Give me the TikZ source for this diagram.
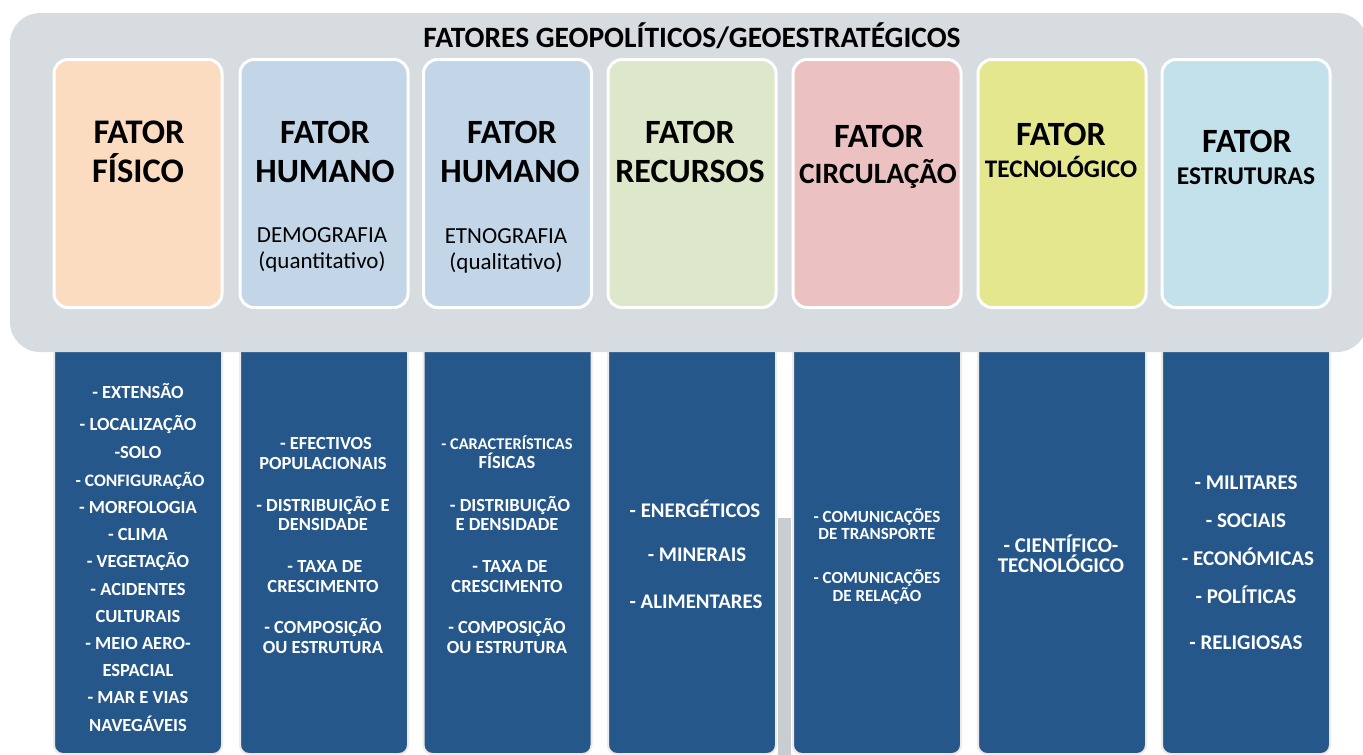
\documentclass[tikz,border=0pt]{standalone}
\usepackage{fontspec}
\setmainfont{Carlito}
\definecolor{panelgray}{HTML}{D7DCE0}
\definecolor{artgray}{HTML}{C8CDD2}
\definecolor{boxblue}{HTML}{26578B}
\definecolor{boxedge}{HTML}{EEEAE5}
\definecolor{cpeach}{HTML}{FBDCC1}
\definecolor{cblue}{HTML}{C2D6E8}
\definecolor{cgreen}{HTML}{DDE7C9}
\definecolor{cpink}{HTML}{EBC1C1}
\definecolor{cyellow}{HTML}{E5E78F}
\definecolor{ccyan}{HTML}{C3E1EB}
\begin{document}
\begin{tikzpicture}[x=1pt,y=-1pt,
  catbox/.style={draw=white, line width=3pt, rounded corners=14pt, minimum width=168pt, minimum height=248pt, inner sep=0pt},
  bluebox/.style={fill=boxblue, draw=boxedge, line width=2pt, rounded corners=9pt, minimum width=168pt, minimum height=430pt, inner sep=0pt},
  bt/.style={anchor=base, inner sep=0pt, font=\bfseries\fontsize{#1}{#1}\selectfont},
  rt/.style={anchor=base, inner sep=0pt, font=\fontsize{#1}{#1}\selectfont},
  wt/.style={bt=#1, text=white}]
\useasboundingbox (0,0) rectangle (1363,755);
\clip (0,0) rectangle (1363,755);

% blue boxes (tops hidden under the panel)
\node[bluebox] (b1) at (138,539) {};
\node[bluebox] (b2) at (324,539) {};
\node[bluebox] (b3) at (507.5,539) {};
\node[bluebox] (b4) at (692,539) {};
\node[bluebox] (b5) at (877,539) {};
\node[bluebox] (b6) at (1062,539) {};
\node[bluebox] (b7) at (1246,539) {};
\fill[artgray] (778,518) rectangle (791,760);

% panel
\node[fill=panelgray, rounded corners=30pt, minimum width=1357pt, minimum height=339pt, inner sep=0pt] (panel) at (688.5,182.5) {};
\node[bt=29.5] (title) at (692,47) {FATORES GEOPOLÍTICOS/GEOESTRATÉGICOS};

% category boxes
\node[catbox, fill=cpeach]  (c1) at (138,183.5) {};
\node[catbox, fill=cblue]   (c2) at (324,183.5) {};
\node[catbox, fill=cblue]   (c3) at (507.5,183.5) {};
\node[catbox, fill=cgreen]  (c4) at (692,183.5) {};
\node[catbox, fill=cpink]   (c5) at (877,183.5) {};
\node[catbox, fill=cyellow] (c6) at (1062,183.5) {};
\node[catbox, fill=ccyan]   (c7) at (1246,183.5) {};

% headings
\node[bt=34.5] (h1a) at (139,143) {FATOR};
\node[bt=34.5] (h1b) at (138,182) {FÍSICO};
\node[bt=34] (h2a) at (325,143) {FATOR};
\node[bt=34] (h2b) at (325,182) {HUMANO};
\node[rt=23] (h2c) at (322,242) {DEMOGRAFIA};
\node[rt=23] (h2d) at (322,268) {(quantitativo)};
\node[bt=34] (h3a) at (512,143) {FATOR};
\node[bt=34] (h3b) at (510,182) {HUMANO};
\node[rt=23] (h3c) at (506,243) {ETNOGRAFIA};
\node[rt=23] (h3d) at (506,269) {(qualitativo)};
\node[bt=34] (h4a) at (690,143) {FATOR};
\node[bt=34] (h4b) at (690,182) {RECURSOS};
\node[bt=34] (h5a) at (879,147) {FATOR};
\node[bt=29.5] (h5b) at (878,183) {CIRCULAÇÃO};
\node[bt=34] (h6a) at (1061,145) {FATOR};
\node[bt=25.3] (h6b) at (1061,177) {TECNOLÓGICO};
\node[bt=34] (h7a) at (1247,152) {FATOR};
\node[bt=25.5] (h7b) at (1246,184) {ESTRUTURAS};

% column 1
\node[wt=18.5] (t1a) at (138,398) {- EXTENSÃO};
\node[wt=18.5] (t1b) at (138,430) {- LOCALIZAÇÃO};
\node[wt=18.5] (t1c) at (138,458) {-SOLO};
\node[wt=17.5] (t1d) at (140,486) {- CONFIGURAÇÃO};
\node[wt=18.5] (t1e) at (138,513) {- MORFOLOGIA};
\node[wt=18.5] (t1f) at (138,540) {- CLIMA};
\node[wt=18.5] (t1g) at (138,567) {- VEGETAÇÃO};
\node[wt=18.5] (t1h) at (138,595) {- ACIDENTES};
\node[wt=18.5] (t1i) at (138,622) {CULTURAIS};
\node[wt=18.5] (t1j) at (138,649) {- MEIO AERO-};
\node[wt=18.5] (t1k) at (138,676) {ESPACIAL};
\node[wt=18.5] (t1l) at (138,703) {- MAR E VIAS};
\node[wt=18.5] (t1m) at (138,731) {NAVEGÁVEIS};

% column 2
\node[wt=18.5] (t2a) at (326,449) {- EFECTIVOS};
\node[wt=18.5] (t2b) at (323,469) {POPULACIONAIS};
\node[wt=18.5] (t2c) at (323,511) {- DISTRIBUIÇÃO E};
\node[wt=18.5] (t2d) at (323,530) {DENSIDADE};
\node[wt=18.5] (t2e) at (325,572) {- TAXA DE};
\node[wt=18.5] (t2f) at (323,592) {CRESCIMENTO};
\node[wt=18.5] (t2g) at (323,633) {- COMPOSIÇÃO};
\node[wt=18.5] (t2h) at (323,653) {OU ESTRUTURA};

% column 3
\node[wt=16.4] (t3a) at (507,449) {- CARACTERÍSTICAS};
\node[wt=18.5] (t3b) at (507,468) {FÍSICAS};
\node[wt=18.5] (t3c) at (510,511) {- DISTRIBUIÇÃO};
\node[wt=18.5] (t3d) at (507,530) {E DENSIDADE};
\node[wt=18.5] (t3e) at (510,572) {- TAXA DE};
\node[wt=18.5] (t3f) at (507,592) {CRESCIMENTO};
\node[wt=18.5] (t3g) at (507,633) {- COMPOSIÇÃO};
\node[wt=18.5] (t3h) at (507,653) {OU ESTRUTURA};

% column 4
\node[wt=20.8] (t4a) at (695,517) {- ENERGÉTICOS};
\node[wt=20.8] (t4b) at (697,561) {- MINERAIS};
\node[wt=20.8] (t4c) at (696,608) {- ALIMENTARES};

% column 5
\node[wt=17] (t5a) at (877,522) {- COMUNICAÇÕES};
\node[wt=17] (t5b) at (877,539) {DE TRANSPORTE};
\node[wt=17] (t5c) at (877,583) {- COMUNICAÇÕES};
\node[wt=17] (t5d) at (877,601) {DE RELAÇÃO};

% column 6
\node[wt=21] (t6a) at (1061,552) {- CIENTÍFICO-};
\node[wt=21] (t6b) at (1061,572) {TECNOLÓGICO};

% column 7
\node[wt=21] (t7a) at (1246,489) {- MILITARES};
\node[wt=21] (t7b) at (1246,527) {- SOCIAIS};
\node[wt=21] (t7c) at (1248,565) {- ECONÓMICAS};
\node[wt=21] (t7d) at (1246,603) {- POLÍTICAS};
\node[wt=21] (t7e) at (1246,649) {- RELIGIOSAS};
\end{tikzpicture}
\end{document}
